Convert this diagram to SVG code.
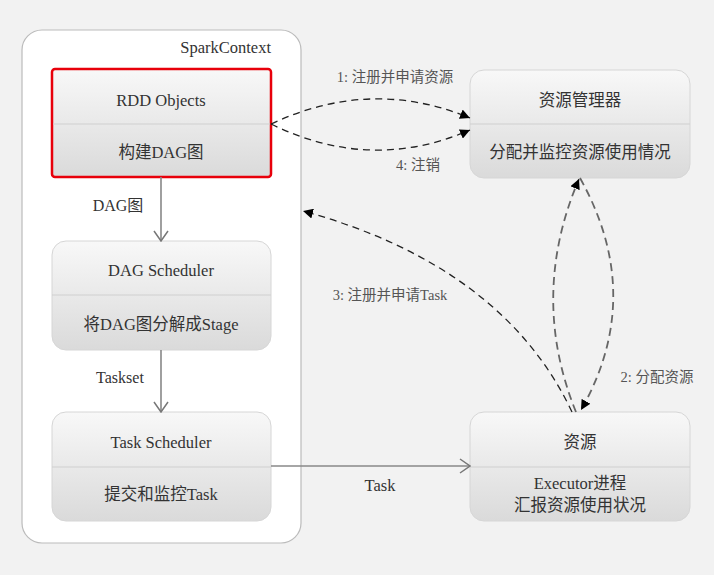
<svg xmlns="http://www.w3.org/2000/svg" width="714" height="575" viewBox="0 0 714 575">
<defs>
<linearGradient id="g" x1="0" y1="0" x2="0" y2="1">
<stop offset="0" stop-color="#f8f8f8"/>
<stop offset="1" stop-color="#dadada"/>
</linearGradient>
<marker id="solid" viewBox="0 0 10 10" refX="10" refY="5" markerWidth="10" markerHeight="10" markerUnits="userSpaceOnUse" orient="auto">
<path d="M0 0 L10 5 L0 10 Z" fill="#000"/>
</marker>
<marker id="open" viewBox="0 0 12 16" refX="11" refY="8" markerWidth="12" markerHeight="16" markerUnits="userSpaceOnUse" orient="auto">
<path d="M1 1 L11 8 L1 15" fill="none" stroke="#777" stroke-width="1.5"/>
</marker>
</defs>
<style>
.node{fill:url(#g);stroke:#d6d6d6;stroke-width:1}
.div{stroke:#d0d0d0;stroke-width:1.2}
.t{font-family:"Liberation Serif","Noto Sans CJK SC",serif;font-size:16.5px;fill:#333;text-anchor:middle}
.lbl{font-family:"Liberation Serif","Noto Sans CJK SC",serif;font-size:14.5px;fill:#555;text-anchor:middle}
.dash{fill:none;stroke:#222;stroke-width:1.3;stroke-dasharray:7 5;marker-end:url(#solid)}
.dash2{fill:none;stroke:#666;stroke-width:1.8;stroke-dasharray:8 5;marker-end:url(#solid)}
.sol{fill:none;stroke:#888;stroke-width:1.6;marker-end:url(#open)}
</style>
<rect x="0" y="0" width="714" height="575" fill="#f2f2f2"/>
<g id="sparkcontext">
<rect x="22" y="30" width="279" height="513" rx="20" fill="#fff" stroke="#bbb" stroke-width="1.2"/>
<text x="271" y="53" class="t" style="text-anchor:end">SparkContext</text>
</g>
<g id="rdd">
<rect x="52" y="69" width="219" height="108" rx="3" class="node" style="stroke:#e8000b;stroke-width:2.5"/>
<line x1="53" y1="124" x2="270" y2="124" class="div"/>
<text x="161" y="106" class="t">RDD Objects</text>
<text x="161" y="158" class="t">构建DAG图</text>
</g>
<g id="dagscheduler">
<rect x="52" y="241" width="219" height="109" rx="14" class="node"/>
<line x1="52" y1="295" x2="271" y2="295" class="div"/>
<text x="161" y="276" class="t">DAG Scheduler</text>
<text x="161" y="330" class="t">将DAG图分解成Stage</text>
</g>
<g id="taskscheduler">
<rect x="52" y="412" width="219" height="109" rx="14" class="node"/>
<line x1="52" y1="467" x2="271" y2="467" class="div"/>
<text x="161" y="448" class="t">Task Scheduler</text>
<text x="161" y="500" class="t">提交和监控Task</text>
</g>
<g id="resourcemanager">
<rect x="470" y="70" width="220" height="108" rx="14" class="node"/>
<line x1="470" y1="124" x2="690" y2="124" class="div"/>
<text x="580" y="106" class="t">资源管理器</text>
<text x="580" y="158" class="t">分配并监控资源使用情况</text>
</g>
<g id="resource">
<rect x="470" y="412" width="220" height="109" rx="14" class="node"/>
<line x1="470" y1="467" x2="690" y2="467" class="div"/>
<text x="580" y="448" class="t">资源</text>
<text x="580" y="489" class="t">Executor进程</text>
<text x="580" y="511" class="t">汇报资源使用状况</text>
</g>
<g id="connectors">
<path d="M161 177 L161 241" class="sol"/>
<path d="M161 350 L161 412" class="sol"/>
<path d="M271 466 L470 466" class="sol"/>
<path d="M271 124 Q371 77 470 118" class="dash"/>
<path d="M271 124 Q371 173 470 130" class="dash"/>
<path d="M572 412 Q503 266 303 211" class="dash"/>
<path d="M576 412 Q529 296 579 179" class="dash2"/>
<path d="M580 178 Q646 296 581 410" class="dash2"/>
<text x="395" y="82" class="lbl">1: 注册并申请资源</text>
<text x="418" y="170" class="lbl">4: 注销</text>
<text x="390" y="300" class="lbl">3: 注册并申请Task</text>
<text x="657" y="382" class="lbl">2: 分配资源</text>
<text x="118" y="211" class="t" style="font-size:16px">DAG图</text>
<text x="120" y="383" class="t" style="font-size:16px">Taskset</text>
<text x="380" y="491" class="t">Task</text>
</g>
</svg>
